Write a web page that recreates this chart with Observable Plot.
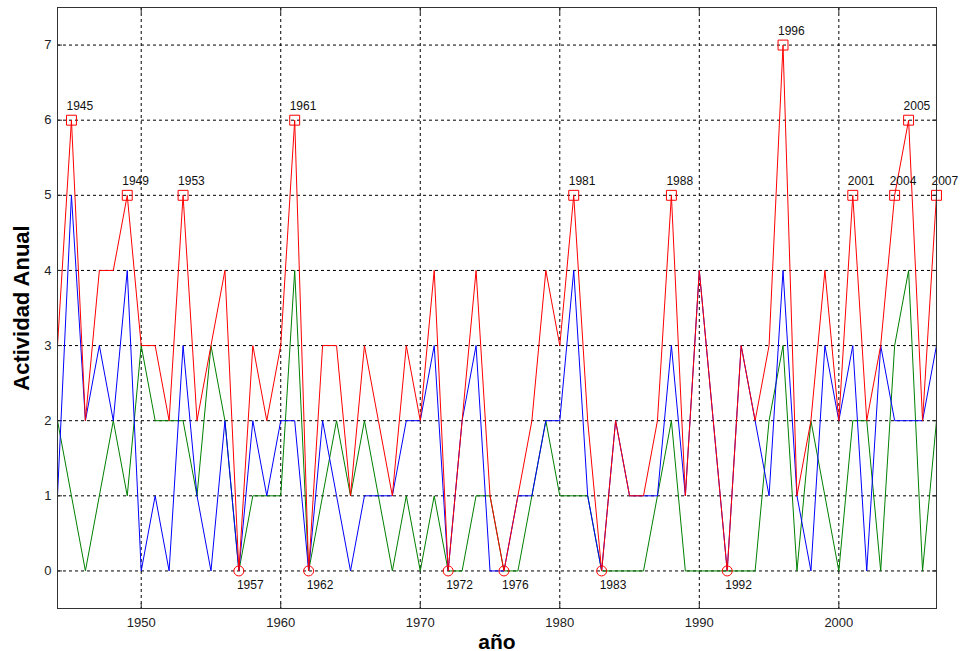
<!DOCTYPE html>
<html>
<head>
<meta charset="utf-8">
<script src="https://cdn.jsdelivr.net/npm/d3@7"></script>
<script src="https://cdn.jsdelivr.net/npm/@observablehq/plot@0.6"></script>
<style>
  html, body { margin: 0; padding: 0; background: #fff; }
  svg { display: block; }
</style>
</head>
<body>
<div id="chart"></div>
<script>
const years = [1944,1945,1946,1947,1948,1949,1950,1951,1952,1953,1954,1955,1956,1957,1958,1959,
  1960,1961,1962,1963,1964,1965,1966,1967,1968,1969,1970,1971,1972,1973,1974,1975,1976,1977,1978,1979,
  1980,1981,1982,1983,1984,1985,1986,1987,1988,1989,1990,1991,1992,1993,1994,1995,1996,1997,1998,1999,
  2000,2001,2002,2003,2004,2005,2006,2007];
const totalRed = [3,6,2,4,4,5,3,3,2,5,2,3,4,0,3,2,
  3,6,0,3,3,1,3,2,1,3,2,4,0,2,4,1,0,1,2,4,
  3,5,2,0,2,1,1,2,5,1,4,2,0,3,2,3,7,1,2,4,
  2,5,2,3,5,6,2,5];
const seriesBlue = [1,5,2,3,2,4,0,1,0,3,1,0,2,0,2,1,
  2,2,0,2,1,0,1,1,1,2,2,3,0,2,3,0,0,1,1,2,
  2,4,1,0,2,1,1,1,3,1,4,2,0,3,2,1,4,1,0,3,
  2,3,0,3,2,2,2,3];
const seriesGreen = [2,1,0,1,2,1,3,2,2,2,1,3,2,0,1,1,
  1,4,0,1,2,1,2,1,0,1,0,1,0,0,1,1,0,0,1,2,
  1,1,1,0,0,0,0,1,2,0,0,0,0,0,0,2,3,0,2,1,
  0,2,2,0,3,4,0,2];
const peakYears = [1945,1949,1953,1961,1981,1988,1996,2001,2004,2005,2007];
const zeroYears = [1957,1962,1972,1976,1983,1992];
const xTicks = [1950,1960,1970,1980,1990,2000];
const yTicks = [0,1,2,3,4,5,6,7];

const rows = years.map((yr, i) => ({year: yr, red: totalRed[i], blue: seriesBlue[i], green: seriesGreen[i]}));
const redOf = yr => totalRed[years.indexOf(yr)];
const peaks = peakYears.map(yr => ({year: yr, v: redOf(yr)}));
const zeros = zeroYears.map(yr => ({year: yr, v: redOf(yr)}));

const grid = {stroke: "#000", strokeOpacity: 1, strokeWidth: 1, strokeDasharray: "3,3"};

const chart = Plot.plot({
  width: 963,
  height: 651,
  marginLeft: 57,
  marginRight: 27,
  marginTop: 7,
  marginBottom: 43,
  style: {fontFamily: "'Liberation Sans', Arial, sans-serif", background: "#fff"},
  x: {domain: [1944, 2007]},
  y: {domain: [-0.5, 7.5]},
  marks: [
    Plot.gridX(xTicks, grid),
    Plot.gridY(yTicks, grid),
    Plot.axisX(xTicks, {tickSize: 0, tickPadding: 9, tickFormat: d => String(d), fontSize: 13, fill: "#222", label: null}),
    Plot.axisY(yTicks, {tickSize: 0, tickPadding: 6, tickFormat: d => String(d), fontSize: 13, fill: "#222", label: null}),
    Plot.axisX(xTicks, {anchor: "bottom", tickSize: 5, dy: -5, text: null, label: null, stroke: "#222"}),
    Plot.axisX(xTicks, {anchor: "top", tickSize: 5, dy: 5, text: null, label: null, stroke: "#222"}),
    Plot.axisY(yTicks, {anchor: "left", tickSize: 5, dx: 5, text: null, label: null, stroke: "#222"}),
    Plot.axisY(yTicks, {anchor: "right", tickSize: 5, dx: -5, text: null, label: null, stroke: "#222"}),
    Plot.line(rows, {x: "year", y: "green", stroke: "#008000", strokeWidth: 1}),
    Plot.line(rows, {x: "year", y: "blue", stroke: "#0000ff", strokeWidth: 1}),
    Plot.line(rows, {x: "year", y: "red", stroke: "#ff0000", strokeWidth: 1}),
    Plot.dot(peaks, {x: "year", y: "v", symbol: "square", r: 5.6, stroke: "#ff0000", fill: "none", strokeWidth: 1}),
    Plot.dot(zeros, {x: "year", y: "v", symbol: "circle", r: 5, stroke: "#ff0000", fill: "none", strokeWidth: 1}),
    Plot.text(peaks, {x: "year", y: "v", text: d => String(d.year), textAnchor: "start", lineAnchor: "bottom", dx: -5, dy: -10, fontSize: 12, fill: "#111"}),
    Plot.text(zeros, {x: "year", y: "v", text: d => String(d.year), textAnchor: "start", lineAnchor: "bottom", dx: -2, dy: 18, fontSize: 12, fill: "#111"}),
    Plot.frame({stroke: "#333", strokeWidth: 1}),
    Plot.text(["año"], {frameAnchor: "bottom", textAnchor: "middle", lineAnchor: "bottom", dy: 40, fontSize: 21, fontWeight: "bold", fill: "#000"}),
    Plot.text(["Actividad Anual"], {frameAnchor: "left", textAnchor: "middle", rotate: -90, lineAnchor: "middle", dx: -36, fontSize: 22, fontWeight: "bold", fill: "#000"})
  ]
});
document.getElementById("chart").appendChild(chart);
</script>
</body>
</html>
